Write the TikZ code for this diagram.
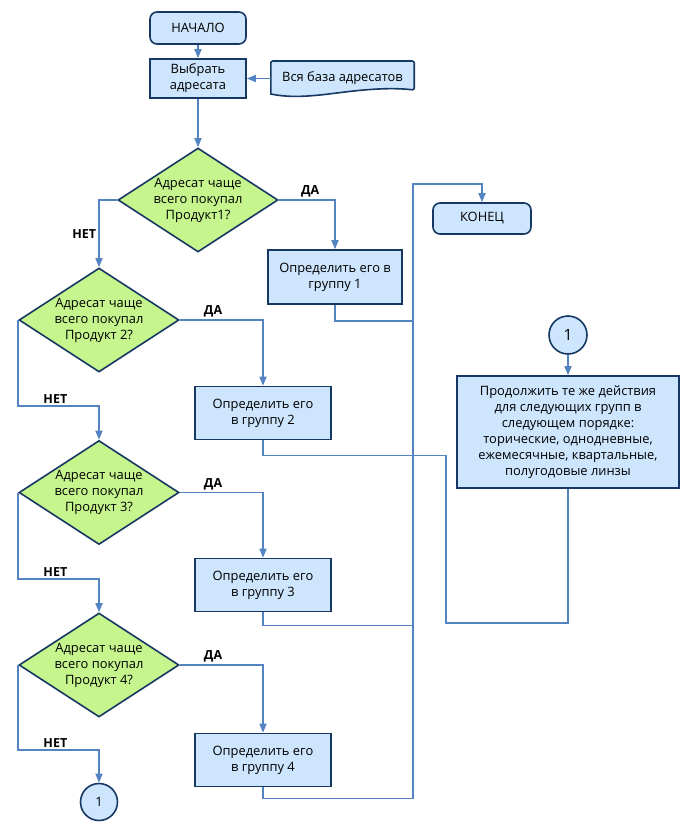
\documentclass[tikz,border=0pt]{standalone}
\usepackage{fontspec}
\setmainfont{Open Sans}
\usepackage{xcolor}
\usetikzlibrary{shapes,arrows.meta,positioning,calc}

\definecolor{edgeblue}{RGB}{22,56,98}
\definecolor{boxblue}{RGB}{205,229,253}
\definecolor{askgreen}{RGB}{198,245,142}
\definecolor{linkblue}{RGB}{84,131,194}

\begin{document}
\begin{tikzpicture}[x=1pt,y=-1pt,
    font=\fontsize{12.9}{16}\selectfont,
    term/.style={draw=edgeblue,fill=boxblue,line width=1.6pt,rounded corners=7pt,
      minimum width=96pt,minimum height=32pt},
    act/.style={draw=edgeblue,fill=boxblue,line width=1.6pt,align=center,
      minimum width=136pt,minimum height=53pt},
    ask/.style={diamond,draw=edgeblue,fill=askgreen,line width=1.6pt,align=center,
      aspect=1.54,inner sep=-8pt,minimum width=160pt,minimum height=104pt},
    joint/.style={circle,draw=edgeblue,fill=boxblue,line width=1.6pt,minimum size=38pt},
    link/.style={draw=linkblue,line width=1.6pt},
    go/.style={link,-{Triangle[width=7pt,length=9pt]}},
    lbl/.style={font=\fontsize{12.5}{13}\selectfont\bfseries,inner sep=2pt}]
  \useasboundingbox (0,0) rectangle (689,834);

  % main column
  \node[term] (start) at (198,28) {НАЧАЛО};
  \node[act,minimum width=96pt,minimum height=39pt] (pick) at (198,78.5) {Выбрать\\адресата};
  \node[minimum width=143pt,minimum height=34pt] (base) at (342.5,78.5) {};
  \draw[edgeblue,fill=boxblue,line width=1.6pt,rounded corners=2pt]
    (base.west |- 0,61) -- (base.east |- 0,61) -- (base.east |- 0,90) [sharp corners]
    .. controls (380,86) and (340,93) .. (320,95)
    .. controls (300,97) and (285,97) .. (base.west |- 0,94) [rounded corners=2pt] -- cycle;
  \node at (base) {Вся база адресатов};

  \node[ask] (q1) at (198,200) {Адресат чаще\\всего покупал\\Продукт1?};
  \node[ask] (q2) at (99,320) {Адресат чаще\\всего покупал\\Продукт 2?};
  \node[ask] (q3) at (99,492.5) {Адресат чаще\\всего покупал\\Продукт 3?};
  \node[ask] (q4) at (99,665) {Адресат чаще\\всего покупал\\Продукт 4?};
  \node[joint,minimum size=37pt] (c1) at (99,802) {1};

  \node[act,minimum width=134pt,minimum height=54pt] (g1) at (335,277) {Определить его в\\группу 1};
  \node[act] (g2) at (263,413) {Определить его\\в группу 2};
  \node[act] (g3) at (263,585) {Определить его\\в группу 3};
  \node[act] (g4) at (263,760) {Определить его\\в группу 4};

  % right column
  \node[term,minimum width=98pt,minimum height=31pt] (stop) at (482,218.5) {КОНЕЦ};
  \node[joint,font=\fontsize{15.5}{16}\selectfont] (c2) at (568,335) {1};
  \node[act,minimum width=222pt,minimum height=112pt] (rest) at (568,432)
    {Продолжить те же действия\\для следующих групп в\\следующем порядке:\\торические, однодневные,\\ежемесячные, квартальные,\\полугодовые линзы};

  \coordinate (bend) at (413,184);
  \coordinate (loop) at (446,623);

  % connectors
  \draw[go] (start) -- (pick);
  \draw[go] (base) -- (pick);
  \draw[go] (pick) -- (q1);
  \draw[go] (q1.east) -| (g1.north) node[lbl,above,pos=0.28] {ДА};
  \draw[go] (q1.west) -| (q2.north) node[lbl,left,pos=0.75] {НЕТ};
  \draw[go] (q2.east) -| (g2.north) node[lbl,above,pos=0.2] {ДА};
  \draw[go] (q2.west) -- ++(0,86) -| (q3.north) node[lbl,above,pos=0.23] {НЕТ};
  \draw[go] (q3.east) -| (g3.north) node[lbl,above,pos=0.2] {ДА};
  \draw[go] (q3.west) -- ++(0,86.5) -| (q4.north) node[lbl,above,pos=0.23] {НЕТ};
  \draw[go] (q4.east) -| (g4.north) node[lbl,above,pos=0.2] {ДА};
  \draw[go] (q4.west) -- ++(0,85) -| (c1.north) node[lbl,above,pos=0.23] {НЕТ};

  \draw[link] (g1.south) -- ++(0,16) -| (bend);
  \draw[link] (g3.south) -- ++(0,13) -| (bend);
  \draw[go] (g4.south) -- ++(0,11) -| (bend) -| (stop.north);
  \draw[link] (g2.south) -- ++(0,15) -| (loop) -| (rest.south);
  \draw[go] (c2) -- (rest);
\end{tikzpicture}
\end{document}
